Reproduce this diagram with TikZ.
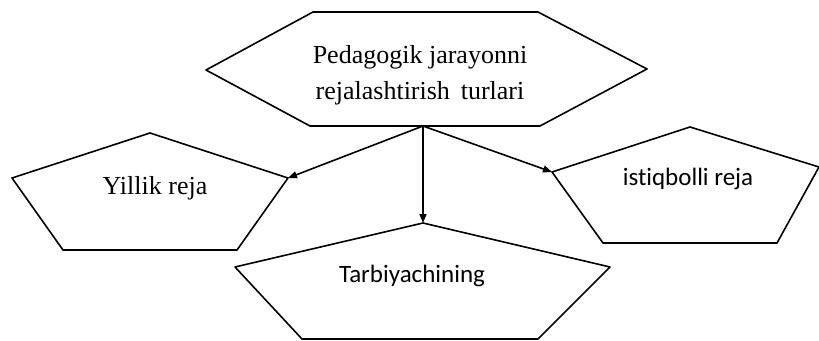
\documentclass[tikz,border=0pt]{standalone}
\usepackage{fontspec}
\setmainfont{Liberation Serif}
\newfontfamily\calibrifont[Ligatures={NoCommon}]{Carlito}
\usetikzlibrary{arrows.meta}

\begin{document}
\begin{tikzpicture}[x=1pt,y=-1pt,line width=1.6pt,line join=round,
        >={Triangle[length=9pt,width=7pt]}]
        \tikzstyle{every node}=[inner sep=0pt]
        \useasboundingbox (0,0) rectangle (819,340);

        % corners of the shapes
        \coordinate (hexbot) at (423,126);
        \coordinate (yilR) at (288,178);
        \coordinate (istL) at (552,172);
        \coordinate (tarT) at (423,223);

        % top hexagon
        \draw (313,12) -- (538,12) -- (647,69) -- (540,126) -- (310,126) -- (206,70) -- cycle;
        \node[font=\fontsize{26}{36}\selectfont,align=center] (turlar) at (420,75)
            {Pedagogik jarayonni\\rejalashtirish\ \,turlari};

        % three pentagons
        \draw (150,133) -- (yilR) -- (237,250) -- (63,250) -- (12,178) -- cycle;
        \draw (690,127) -- (819,167) -- (777,243) -- (603,243) -- (istL) -- cycle;
        \draw (tarT) -- (610,267) -- (538,339) -- (302,339) -- (235,267) -- cycle;

        \node[font=\fontsize{26}{30}\selectfont,anchor=base] (yillik) at (155,194) {Yillik reja};
        \node[font=\calibrifont\fontsize{25}{30}\selectfont,anchor=base] (istiqbol) at (688,185) {istiqbolli reja};
        \node[font=\calibrifont\fontsize{25}{30}\selectfont,anchor=base] (tarbiya) at (412,282) {Tarbiyachining};

        % arrows
        \draw[->] (hexbot) -- (yilR);
        \draw[->] (hexbot) -- (istL);
        \draw[->] (hexbot) -- (tarT);
    \end{tikzpicture}
\end{document}
